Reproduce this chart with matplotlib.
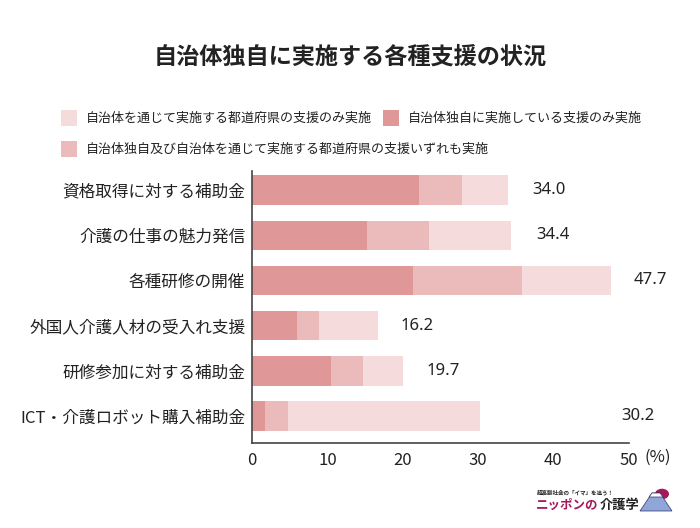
import matplotlib
matplotlib.use("Agg")
import matplotlib.pyplot as plt
from matplotlib.patches import Polygon, Circle, Rectangle

plt.rcParams['font.family'] = ['Noto Sans CJK JP', 'DejaVu Sans']

categories = ["資格取得に対する補助金", "介護の仕事の魅力発信", "各種研修の開催",
              "外国人介護人材の受入れ支援", "研修参加に対する補助金", "ICT・介護ロボット購入補助金"]
own_only = [22.1, 15.3, 21.4, 5.9, 10.5, 1.7]
both = [5.8, 8.2, 14.4, 2.9, 4.2, 3.1]
pref_only = [6.1, 10.9, 11.9, 7.9, 5.3, 25.5]
totals = ["34.0", "34.4", "47.7", "16.2", "19.7", "30.2"]
label_offset = [3.2, 3.3, 3.0, 3.0, 3.2, 18.7]

series_names = ["自治体を通じて実施する都道府県の支援のみ実施",
                "自治体独自に実施している支援のみ実施",
                "自治体独自及び自治体を通じて実施する都道府県の支援いずれも実施"]
c_dark = "#DF9798"
c_mid = "#EBBABB"
c_light = "#F5DBDC"

fig = plt.figure(figsize=(7, 5.28), dpi=100)
ax = fig.add_axes([252.3/700, 1-443.3/528, (628.7-252.3)/700, (443.3-171)/528])

y = list(range(len(categories)))
h = 0.65
ax.barh(y, own_only, height=h, color=c_dark, linewidth=0)
ax.barh(y, both, left=own_only, height=h, color=c_mid, linewidth=0)
left3 = [a + b for a, b in zip(own_only, both)]
ax.barh(y, pref_only, left=left3, height=h, color=c_light, linewidth=0)

for i in y:
    end = left3[i] + pref_only[i]
    ax.text(end + label_offset[i], i, totals[i], va='center', ha='left',
            fontsize=12, color='#222222', clip_on=False, family='Noto Sans')

ax.set_xlim(0, 50)
ax.set_ylim(5.6, -0.42)
ax.set_yticks(y)
ax.set_yticklabels(categories, fontsize=12, color='#222222')
ax.set_xticks([0, 10, 20, 30, 40, 50])
ax.set_xticklabels(["0", "10", "20", "30", "40", "50"], fontsize=12, color='#222222')
ax.tick_params(axis='both', length=0)
ax.tick_params(axis='y', pad=5)
ax.tick_params(axis='x', pad=6)
for s in ['top', 'right']:
    ax.spines[s].set_visible(False)
for s in ['left', 'bottom']:
    ax.spines[s].set_color('#444444')
    ax.spines[s].set_linewidth(1.2)
ax.text(644/700, 1-457/528, "(%)", transform=fig.transFigure, fontsize=12,
        va='center', ha='left', color='#222222')

fig.text(0.5, 1-57.5/528, "自治体独自に実施する各種支援の状況", ha='center', va='center',
         fontsize=16.7, fontweight='bold', color='#222222')

# legend
leg_items = [(61, 118, c_light, series_names[0]),
             (383, 118, c_dark, series_names[1]),
             (61, 149, c_mid, series_names[2])]
for (px, py, col, name) in leg_items:
    fig.patches.append(Rectangle((px/700, 1-(py+8)/528), 16/700, 16/528,
                                 transform=fig.transFigure, color=col, lw=0))
    fig.text((px+24.5)/700, 1-py/528, name, ha='left', va='center', fontsize=9.4,
             color='#222222')

# logo
fig.text(537/700, 1-493/528, "超高齢社会の「イマ」を追う！", ha='left', va='center',
         fontsize=4, fontweight='bold', color='#222222')
fig.text(536/700, 1-505/528, "ニッポンの", ha='left', va='center',
         fontsize=9, fontweight='bold', color='#A3195B')
fig.text(600/700, 1-505/528, "介護学", ha='left', va='center',
         fontsize=9.5, fontweight='bold', color='#222222')
fig.patches.append(Circle((662/700, 1-494/528), 7/700, transform=fig.transFigure,
                          color='#A3195B', lw=0))
fig.patches.append(Polygon([(640/700, 1-511/528), (652/700, 1-493/528),
                            (660/700, 1-493/528), (672/700, 1-511/528)],
                           closed=True, transform=fig.transFigure,
                           facecolor='#8FA6D8', edgecolor='#333366', lw=0.5))
fig.patches.append(Polygon([(649/700, 1-497/528), (652/700, 1-493/528),
                            (660/700, 1-493/528), (663/700, 1-497/528)],
                           closed=True, transform=fig.transFigure,
                           facecolor='white', edgecolor='#333366', lw=0.5))

fig.savefig("out.png", dpi=100)
